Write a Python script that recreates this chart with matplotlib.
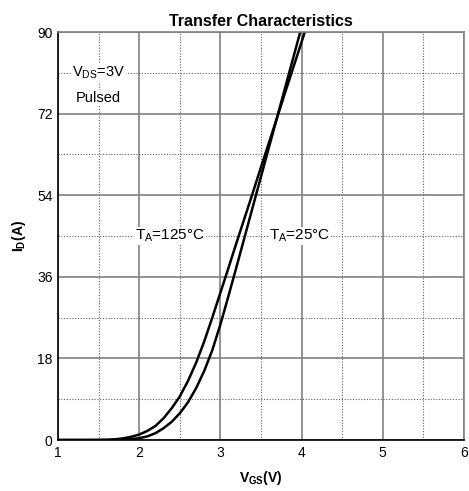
import numpy as np
import matplotlib
matplotlib.use("Agg")
import matplotlib.pyplot as plt

# ── Data ──────────────────────────────────────────────────────────────────────
vgs = [1.0, 1.4, 1.5, 1.6, 1.7, 1.8, 1.9, 2.0, 2.1, 2.2, 2.3, 2.4, 2.5, 2.6,
       2.7, 2.8, 2.9, 3.0, 3.1, 3.2, 3.3, 3.4, 3.5, 3.6, 3.7, 3.8, 3.9, 4.0, 4.1]
id_125 = [0, 0, 0.02, 0.05, 0.15, 0.35, 0.7, 1.2, 2.0, 3.1, 4.8, 7.0, 9.6, 13.0,
          17.0, 21.7, 27, 32.5, 38, 43.6, 49.1, 54.6, 60.2, 65.7, 71.2, 76.8,
          82.3, 87.8, 93.4]
id_25 = [0, 0, 0, 0, 0.02, 0.08, 0.2, 0.4, 0.8, 1.5, 2.6, 4.0, 5.9, 8.3,
         11.4, 15.2, 19.8, 25.5, 31.8, 38.3, 44.9, 51.5, 58.1, 64.7, 71.3, 77.9,
         84.5, 91.1, 97.7]

x_ticks = [1, 2, 3, 4, 5, 6]
y_ticks = [0, 18, 36, 54, 72, 90]

# ── Style ─────────────────────────────────────────────────────────────────────
plt.rcParams["font.family"] = ["Liberation Sans", "DejaVu Sans"]
plt.rcParams["mathtext.fontset"] = "custom"
plt.rcParams["mathtext.rm"] = "Liberation Sans"
plt.rcParams["mathtext.it"] = "Liberation Sans:italic"
plt.rcParams["mathtext.bf"] = "Liberation Sans:bold"

fig = plt.figure(figsize=(4.69, 4.91), dpi=100)
ax = fig.add_axes([58 / 469, 1 - 440 / 491, 406 / 469, 408 / 491])

# grid
ax.set_xlim(1, 6)
ax.set_ylim(0, 90)
ax.set_xticks(x_ticks)
ax.set_yticks(y_ticks)
ax.set_xticks(np.arange(1.5, 6, 1), minor=True)
ax.set_yticks(np.arange(9, 90, 18), minor=True)
ax.grid(which="major", color="#808080", lw=1.2, ls="-")
ax.grid(which="minor", color="#606060", lw=0.8, ls=(0, (1, 1.5)))
ax.set_axisbelow(True)
ax.tick_params(which="both", length=0, labelsize=10, pad=4)

for s in ["top", "right"]:
    ax.spines[s].set_color("#808080")
    ax.spines[s].set_linewidth(1.2)
for s in ["left", "bottom"]:
    ax.spines[s].set_color("black")
    ax.spines[s].set_linewidth(1.2)

# curves
ax.plot(vgs, id_125, color="black", lw=1.8)
ax.plot(vgs, id_25, color="black", lw=1.8)

# annotations
box = dict(facecolor="white", edgecolor="none", pad=0.5)
ax.text(1.5, 81, r"V$_{\mathrm{DS}}$=3V", ha="center", va="center", fontsize=10.5, bbox=box)
ax.text(1.5, 75.5, "Pulsed", ha="center", va="center", fontsize=10.5, bbox=box)
ax.text(2.38, 45, r"T$_{\mathrm{A}}$=125°C", ha="center", va="center", fontsize=11, bbox=box)
ax.text(3.97, 45, r"T$_{\mathrm{A}}$=25°C", ha="center", va="center", fontsize=11, bbox=box)

ax.set_title("Transfer Characteristics", fontsize=11.5, fontweight="bold", pad=4)
ax.set_xlabel(r"$\mathbf{V_{GS}}$(V)", fontsize=10, fontweight="bold", labelpad=7)
ax.set_ylabel(r"$\mathbf{I_{D}}$(A)", fontsize=10, fontweight="bold", labelpad=6)

plt.savefig("out.png", dpi=100)
